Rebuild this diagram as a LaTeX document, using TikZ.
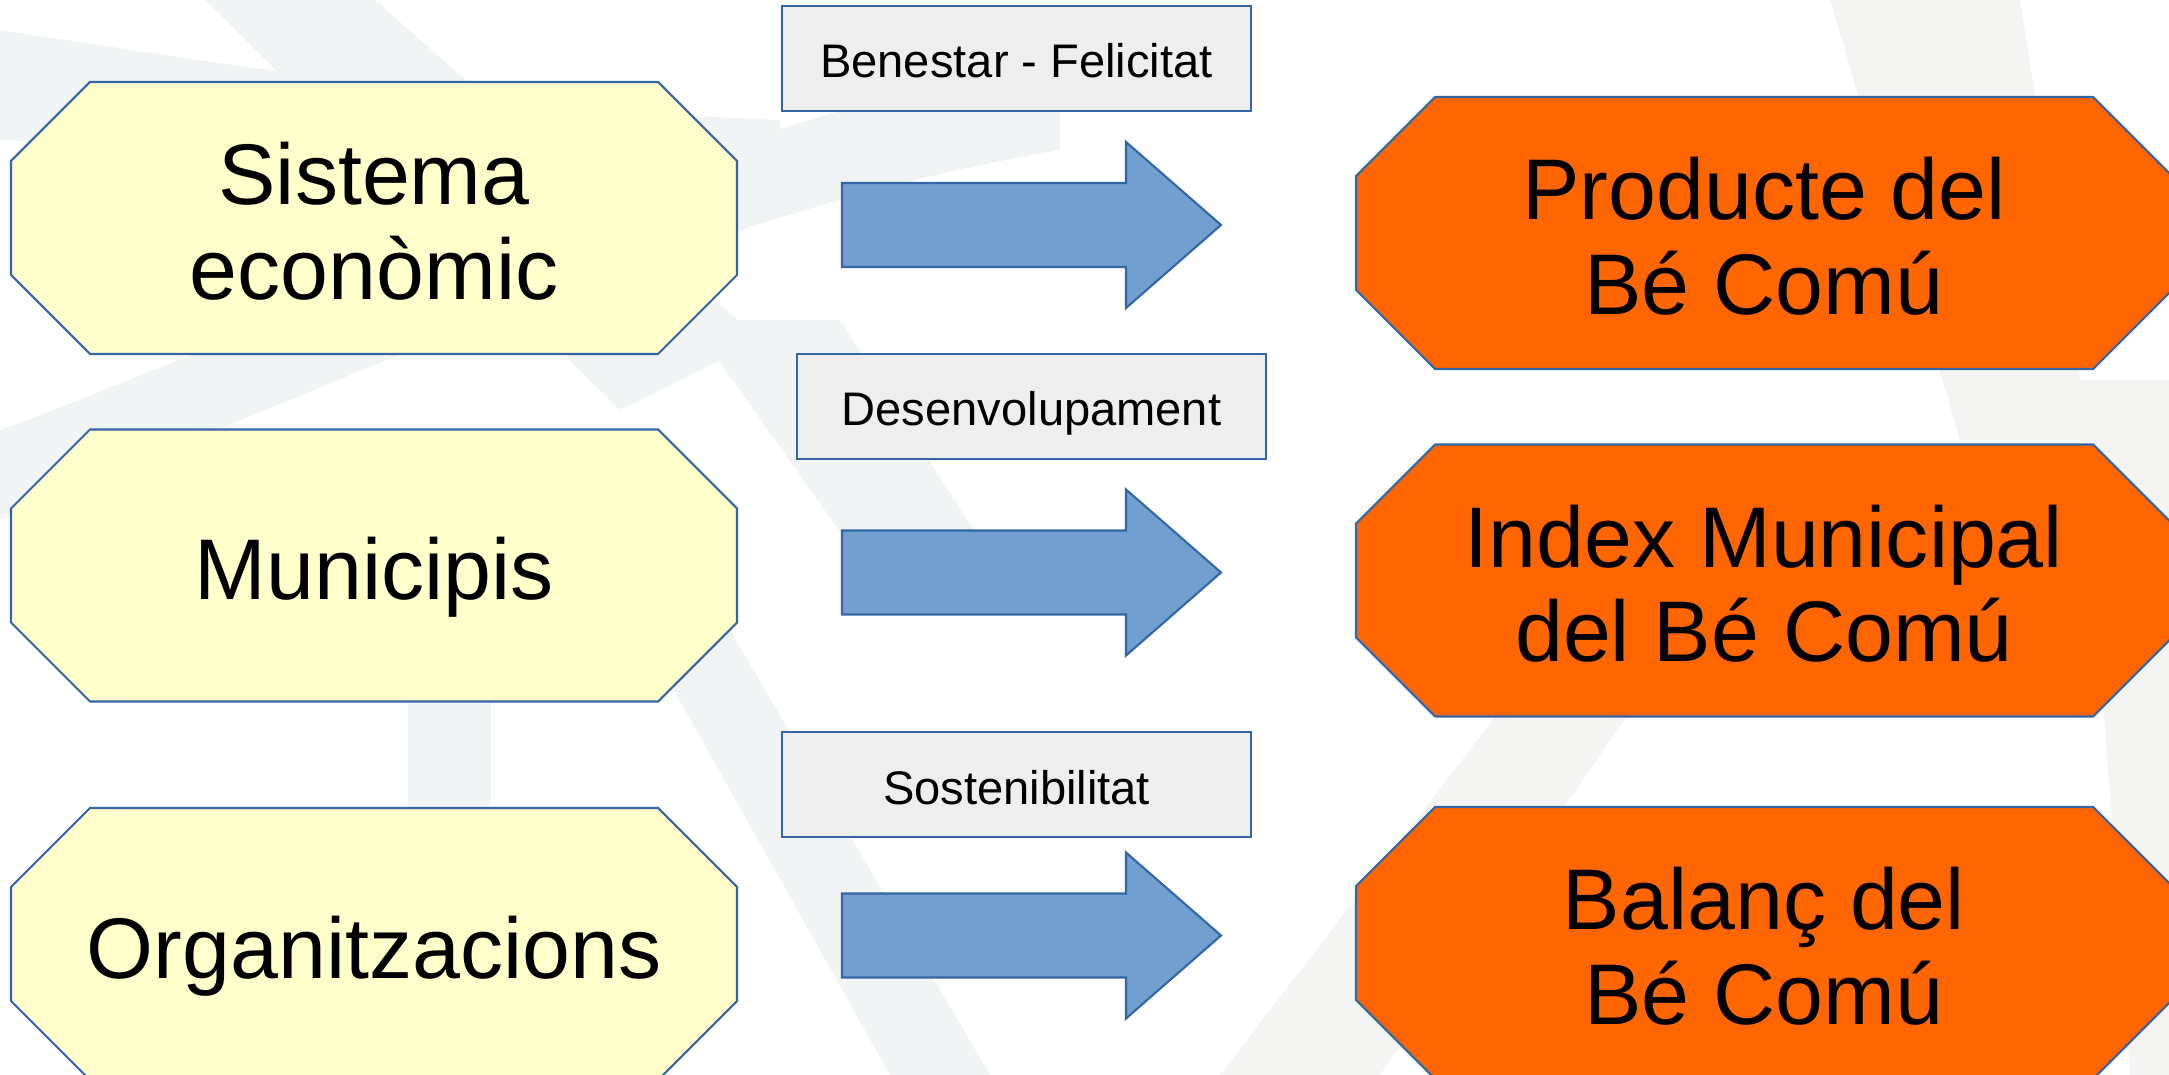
\documentclass[tikz,border=0pt]{standalone}
\usepackage{fontspec}
\setmainfont{Liberation Sans}
\usetikzlibrary{positioning, calc, backgrounds}

\definecolor{octyellow}{HTML}{FFFFCC}
\definecolor{octorange}{HTML}{FF6600}
\definecolor{edgeblue}{HTML}{3465A4}
\definecolor{arrowblue}{HTML}{729FCF}
\definecolor{labelgray}{HTML}{EEEEEE}
\definecolor{wmblue}{HTML}{F1F4F5}
\definecolor{wmwarm}{HTML}{F4F5F2}

\begin{document}
\begin{tikzpicture}[
    oct/.style={rectangle, inner sep=0pt, outer sep=0pt, align=center,
      font=\fontsize{24.5}{27}\selectfont, text height=0.76cm, text depth=0.08cm},
    twoline/.style={text height=1.71cm},
    source/.style={oct, minimum width=7.26cm, minimum height=2.72cm},
    target/.style={oct, minimum width=8.16cm, minimum height=2.72cm},
    octline/.style={draw=edgeblue, line width=0.6pt},
    tag/.style={rectangle, draw=edgeblue, fill=labelgray, line width=0.6pt, inner sep=0pt,
      minimum width=4.69cm, minimum height=1.05cm, text height=0.40cm, text depth=0.01cm,
      font=\fontsize{13.4}{16}\selectfont},
    bigarrow/.style={draw=edgeblue, fill=arrowblue, line width=0.6pt, line join=miter}]

  \useasboundingbox (0,0) rectangle (21.69,-10.75);

  \node[source, twoline] (econ) at (3.74,-2.18) {Sistema\\econòmic};
  \node[source] (muni) at (3.74,-5.655) {Municipis};
  \node[source] (org) at (3.74,-9.44) {Organitzacions};

  \node[target, twoline] (pbc) at (17.64,-2.33) {Producte del\\Bé Comú};
  \node[target, twoline] (imbc) at (17.64,-5.805) {Index Municipal\\del Bé Comú};
  \node[target, twoline] (bbc) at (17.64,-9.43) {Balanç del\\Bé Comú};

  \node[tag] (benestar) at (10.165,-0.585) {Benestar - Felicitat};
  \node[tag] (desenv) at (10.315,-4.065) {Desenvolupament};
  \node[tag] (sosten) at (10.165,-7.845) {Sostenibilitat};

  \foreach \y in {2.25, 5.725, 9.355}
    \draw[bigarrow] (8.42,-\y) ++(0,0.42) -- ++(2.84,0) -- ++(0,0.41) -- ++(0.95,-0.83)
      -- ++(-0.95,-0.83) -- ++(0,0.41) -- ++(-2.84,0) -- cycle;

  \begin{pgfonlayer}{background}
    % watermark in the background
    \fill[wmblue] (2.05,0) -- (3.75,0) -- (7.6,-3.4) -- (6.2,-4.1) -- cycle;
    \fill[wmblue] (0,-4.3) .. controls (3,-3.2) and (7,-1.2) .. (10.6,-0.6)
      -- (10.6,-1.5) .. controls (7,-2.1) and (3,-4) .. (0,-5.2) -- cycle;
    \fill[wmblue] (0,-0.3) .. controls (2,-0.6) and (5,-1.1) .. (7.8,-1.2)
      -- (7.8,-1.9) .. controls (5,-1.9) and (2,-1.5) .. (0,-1.4) -- cycle;
    \fill[wmblue] (6.9,-3.2) -- (8.4,-3.2) -- (9.8,-5.4) -- (8.6,-5.6) -- cycle;
    \fill[wmblue] (4.08,-6.9) rectangle (4.91,-10.75);
    \fill[wmblue] (6.4,-6.3) -- (7.3,-6.3) -- (9.9,-10.75) -- (8.9,-10.75) -- cycle;
    \fill[wmwarm] (18.3,0) -- (20.2,0) -- (20.9,-4.4) -- (19.6,-4.4) -- cycle;
    \fill[wmwarm] (20.8,-3.8) -- (21.69,-3.8) -- (21.69,-10.75) -- (21.3,-10.75) -- cycle;
    \fill[wmwarm] (17.0,-4.5) -- (18.1,-4.5) -- (13.8,-10.75) -- (12.2,-10.75) -- cycle;

    % octagons behind the texts
    \foreach \n/\c in {econ/octyellow, muni/octyellow, org/octyellow,
                       pbc/octorange, imbc/octorange, bbc/octorange}
      \draw[octline, fill=\c] ($(\n.north west)+(0.79,0)$) -- ($(\n.north east)+(-0.79,0)$)
        -- ($(\n.north east)+(0,-0.79)$) -- ($(\n.south east)+(0,0.79)$)
        -- ($(\n.south east)+(-0.79,0)$) -- ($(\n.south west)+(0.79,0)$)
        -- ($(\n.south west)+(0,0.79)$) -- ($(\n.north west)+(0,-0.79)$) -- cycle;
  \end{pgfonlayer}
\end{tikzpicture}
\end{document}
